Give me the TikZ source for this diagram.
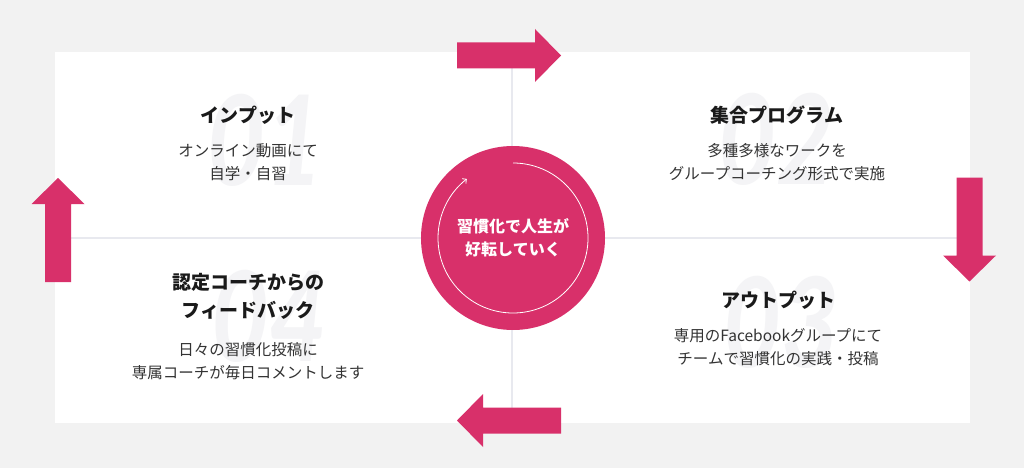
\documentclass[tikz,border=0pt]{standalone}
\usepackage{fontspec}
\setmainfont{Noto Sans CJK JP}
\newfontfamily\numfont{Lato}
\usetikzlibrary{arrows.meta, positioning}
\definecolor{accent}{RGB}{216,48,106}
\definecolor{pagegrey}{RGB}{242,242,242}
\definecolor{linegrey}{RGB}{232,233,239}
\definecolor{numgrey}{RGB}{244,244,246}
\definecolor{inkdark}{RGB}{26,26,26}
\definecolor{inkbody}{RGB}{51,51,51}

\begin{document}
\begin{tikzpicture}[
  x=1pt, y=-1pt, >=Stealth, node distance=19pt,
  ttl/.style={font=\fontsize{19}{28}\selectfont\bfseries, text=inkdark,
              align=center, inner sep=0pt},
  body/.style={font=\fontsize{15.5}{23}\selectfont, text=inkbody,
               align=center, inner sep=0pt},
  num/.style={font=\numfont\fontsize{125}{125}\selectfont\bfseries\itshape,
              text=numgrey, inner sep=0pt, xscale=0.8, transform shape},
  hub/.style={circle, fill=accent, minimum size=184pt, inner sep=0pt,
              text=white, font=\fontsize{16}{23}\selectfont\bfseries, align=center},
  bigarrow/.style={fill=accent}
]
  \fill[pagegrey] (0,0) rectangle (1024,468);
  \useasboundingbox (0,0) rectangle (1024,468);
  % card and its soft shadow
  \fill[black!5] (54,53) rectangle (972,427);
  \fill[white] (55,52) rectangle (970,423);
  \draw[linegrey, line width=2pt] (512,52) -- (512,423);
  \draw[linegrey, line width=2pt] (55,238) -- (970,238);

  % step numbers
  \node[num] (n1) at (265,140) {01};
  \node[num] (n2) at (776,139) {02};
  \node[num] (n3) at (781,322) {03};
  \node[num] (n4) at (269,316) {04};

  \node[ttl] (inputT) at (248,115) {インプット};
  \node[body, below=of inputT] (inputB) {オンライン動画にて\\自学・自習};
  \node[ttl] (groupT) at (777,115) {集合プログラム};
  \node[body, below=of groupT] (groupB) {多種多様なワークを\\グループコーチング形式で実施};
  \node[ttl] (outputT) at (778,300) {アウトプット};
  \node[body, below=of outputT] (outputB) {専用のFacebookグループにて\\チームで習慣化の実践・投稿};
  \node[ttl] (feedT) at (248,296) {認定コーチからの\\フィードバック};
  \node[body, below=23pt of feedT] (feedB) {日々の習慣化投稿に\\専属コーチが毎日コメントします};

  % centre circle
  \node[hub] (hub) at (513,238) {習慣化で人生が\\好転していく};
  \draw[white, line width=0.8pt, -{Straight Barb[length=3pt, width=6pt]}]
    ([yshift=75pt]hub.center) arc[start angle=90, end angle=-232, radius=75pt];

  % cycle arrows
  \foreach \ang/\ax/\ay in {0/509/55.5, -90/969.5/229.5, 180/509/420.5, 90/58/230} {
    \fill[bigarrow, shift={(\ax,\ay)}, rotate=\ang]
      (-52,-13) -- (26,-13) -- (26,-26.5) -- (52,0) -- (26,26.5) -- (26,13) -- (-52,13) -- cycle;
  }
\end{tikzpicture}
\end{document}
